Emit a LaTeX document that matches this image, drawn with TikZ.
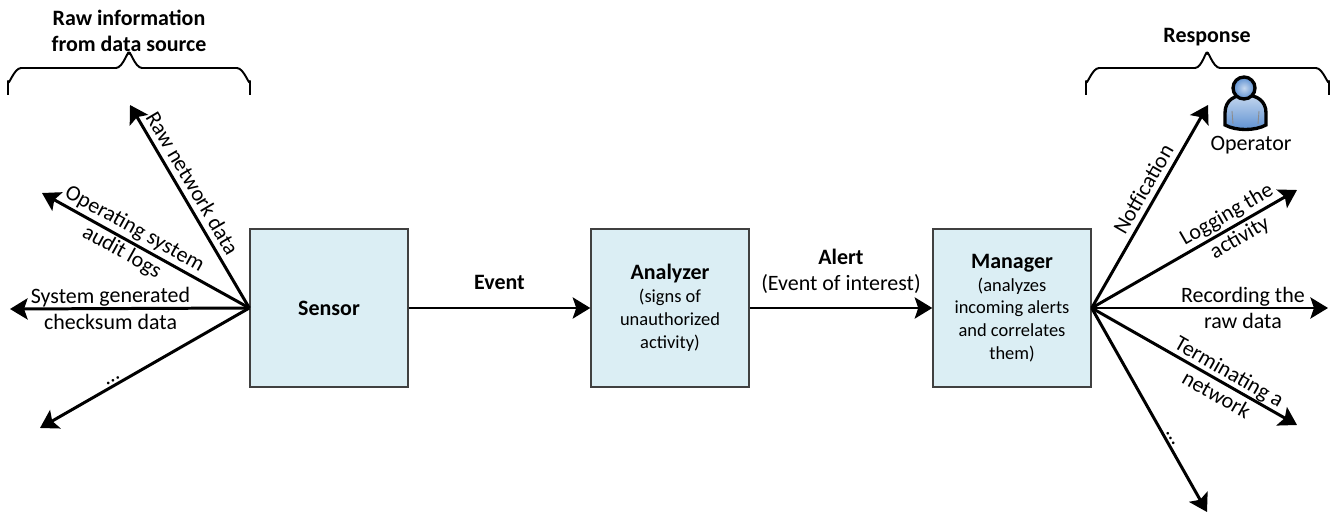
\documentclass[tikz,border=0pt]{standalone}
\usepackage{fontspec}
\setmainfont{Carlito}
\usetikzlibrary{arrows.meta,shapes}
\definecolor{compfill}{HTML}{DBEEF4}
\definecolor{opblue}{HTML}{5A8ED0}
\newcommand\compname[1]{{\fontsize{12.5}{13}\selectfont\bfseries #1}}

\begin{document}
\begin{tikzpicture}[x=0.02cm,y=-0.02cm]
  \tikzstyle{every node}=[font=\fontsize{12.5}{15}\selectfont]
  \tikzstyle{comp}=[draw=black!75, line width=0.8pt, fill=compfill, minimum width=3.16cm, minimum height=3.16cm, align=center, inner sep=2pt, font=\fontsize{10.5}{13}\selectfont]
  \tikzstyle{flow}=[line width=1.7pt, -{Stealth[length=10pt,width=12pt,inset=2pt]}]
  \tikzstyle{lbl}=[sloped, align=center, inner sep=1pt]
  \tikzstyle{brace}=[line width=1.1pt, line join=round]
  \useasboundingbox (0,0) rectangle (1335,513);

  \node[comp] (sensor) at (329,308) {\compname{Sensor}};
  \node[comp] (analyzer) at (670,308) {\compname{Analyzer}\\(signs of\\unauthorized\\activity)};
  \node[comp] (manager) at (1012,308) {\compname{Manager}\\(analyzes\\incoming alerts\\and correlates\\them)};

  \draw[flow] (sensor) -- node[above=6pt] {\textbf{Event}} (analyzer);
  \draw[flow] (analyzer) -- node[above=4pt, align=center] {\textbf{Alert}\\(Event of interest)} (manager);

  \coordinate (rawnet) at (130,105);
  \coordinate (auditlog) at (42,193);
  \coordinate (checksum) at (10,309);
  \coordinate (othersrc) at (40,428);
  \draw[flow] (sensor.west) -- node[lbl, above=2pt, pos=0.58] {Raw network data} (rawnet);
  \draw[flow] (sensor.west) -- node[lbl, pos=0.585] {Operating system\\audit logs} (auditlog);
  \draw[flow] (sensor.west) -- node[lbl, pos=0.58] {System generated\\checksum data} (checksum);
  \draw[flow] (sensor.west) -- node[lbl, above, pos=0.64] {\ldots} (othersrc);

  \coordinate (notify) at (1208,105);
  \coordinate (logging) at (1297,190);
  \coordinate (recording) at (1328,308);
  \coordinate (terminate) at (1297,425);
  \coordinate (otherresp) at (1207,512);
  \draw[flow] (manager.east) -- node[lbl, above=2pt, pos=0.55] {Notfication} (notify);
  \draw[flow] (manager.east) -- node[lbl, pos=0.69] {Logging the\\activity} (logging);
  \draw[flow] (manager.east) -- node[lbl, pos=0.64] {Recording the\\raw data} (recording);
  \draw[flow] (manager.east) -- node[lbl, pos=0.64] {Terminating a\\network} (terminate);
  \draw[flow] (manager.east) -- node[lbl, above, pos=0.65] {\ldots} (otherresp);

  \node[align=center, font=\fontsize{12.5}{14.5}\selectfont\bfseries] (rawinfo) at (129,31) {Raw information\\from data source};
  \draw[brace] (8,95) -- (8,81) to[out=-90,in=180] (21,68) -- (116,68) to[out=0,in=90] (129,54) to[out=90,in=180] (142,68) -- (237,68) to[out=0,in=-90] (250,81) -- (250,95);

  \node[font=\fontsize{12.5}{15}\selectfont\bfseries] (response) at (1207,37) {Response};
  \draw[brace] (1086,95) -- (1086,81) to[out=-90,in=180] (1099,68) -- (1195,68) to[out=0,in=90] (1207,54) to[out=90,in=180] (1220,68) -- (1316,68) to[out=0,in=-90] (1329,81) -- (1329,95);

  \draw[line width=1.9pt, top color=opblue!35!white, bottom color=opblue] (1225,125) -- (1225,113) .. controls (1225,100) and (1235,95) .. (1245,95) .. controls (1257,95) and (1266,101) .. (1266,113) -- (1266,125) .. controls (1255,131) and (1236,131) .. (1225,125) -- cycle;
  \draw[black!45, line width=0.5pt] (1232,111) -- (1233,124) (1259,111) -- (1258,124);
  \draw[line width=1.9pt, inner color=opblue!35!white, outer color=opblue] (1244,88) circle (11);
  \node (operator) at (1251,145) {Operator};
\end{tikzpicture}
\end{document}
